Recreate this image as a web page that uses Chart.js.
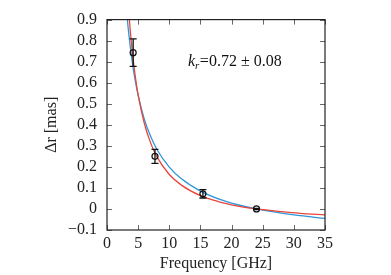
<!DOCTYPE html>
<html>
<head>
<meta charset="utf-8">
<script src="https://cdn.jsdelivr.net/npm/chart.js@4/dist/chart.umd.min.js"></script>
<style>
  html, body { margin: 0; padding: 0; background: #fff; }
  #wrap { width: 391px; height: 275px; }
</style>
</head>
<body>
<div id="wrap"><canvas id="myChart"></canvas></div>
<script>
// measured core shift points
const freqs = [4.2, 7.7, 15.4, 24.0];
const shifts = [0.743, 0.25, 0.072, 0.0];
const errs = [0.065, 0.033, 0.02, 0.003];

// red fit curve (k_r = 0.72)
const redFreq = [3.5, 3.6, 4, 4.5, 5, 6, 7, 8, 10, 12, 15, 18, 21, 24, 28, 31, 35];
const redVal = [0.935, 0.896, 0.765, 0.639, 0.542, 0.406, 0.314, 0.249, 0.164, 0.112, 0.063, 0.034, 0.014, 0, -0.013, -0.021, -0.028];

// blue fit curve (k_r = 1)
const blueFreq = [3.1, 3.2, 3.5, 4, 4.5, 5, 6, 7, 8, 10, 12, 15, 18, 21, 24, 28, 31, 35];
const blueVal = [0.96, 0.923, 0.832, 0.71, 0.616, 0.54, 0.426, 0.345, 0.284, 0.199, 0.142, 0.085, 0.047, 0.02, 0, -0.02, -0.032, -0.045];

const xTicks = [0, 5, 10, 15, 20, 25, 30, 35];
const yTicks = [-0.1, 0, 0.1, 0.2, 0.3, 0.4, 0.5, 0.6, 0.7, 0.8, 0.9];

const annText = '=0.72 \u00b1 0.08';

const serif = '"Liberation Serif", "DejaVu Serif", serif';

function pts(xs, ys) {
  return xs.map((x, i) => ({ x: x, y: ys[i] }));
}

// inward ticks on all four sides + frame
const framePlugin = {
  id: 'frame',
  afterDraw(chart) {
    const ctx = chart.ctx;
    const a = chart.chartArea;
    const xs = chart.scales.x, ys = chart.scales.y;
    ctx.save();
    ctx.strokeStyle = '#666';
    ctx.lineWidth = 1;
    const tl = 5;
    xTicks.forEach(v => {
      const px = Math.round(xs.getPixelForValue(v)) + 0.5;
      ctx.beginPath();
      ctx.moveTo(px, a.bottom); ctx.lineTo(px, a.bottom - tl);
      ctx.moveTo(px, a.top); ctx.lineTo(px, a.top + tl);
      ctx.stroke();
    });
    yTicks.forEach(v => {
      const py = Math.round(ys.getPixelForValue(v)) + 0.5;
      ctx.beginPath();
      ctx.moveTo(a.left, py); ctx.lineTo(a.left + tl, py);
      ctx.moveTo(a.right, py); ctx.lineTo(a.right - tl, py);
      ctx.stroke();
    });
    ctx.strokeStyle = '#222';
    ctx.lineWidth = 1.2;
    ctx.strokeRect(a.left, a.top, a.right - a.left, a.bottom - a.top);

    // k_r annotation
    const x0 = xs.getPixelForValue(13);
    const y0 = ys.getPixelForValue(0.68);
    ctx.fillStyle = '#111';
    ctx.textBaseline = 'alphabetic';
    ctx.textAlign = 'left';
    ctx.font = 'italic 16px ' + serif;
    ctx.fillText('k', x0, y0);
    let w = ctx.measureText('k').width;
    ctx.font = 'italic 11px ' + serif;
    ctx.fillText('r', x0 + w, y0 + 3);
    w += ctx.measureText('r').width + 0.5;
    ctx.font = '16px ' + serif;
    ctx.fillText(annText, x0 + w, y0);
    ctx.restore();
  }
};

// error bars drawn through the scales
const errPlugin = {
  id: 'errbars',
  afterDatasetsDraw(chart) {
    const ctx = chart.ctx;
    const xs = chart.scales.x, ys = chart.scales.y;
    ctx.save();
    ctx.strokeStyle = '#111';
    ctx.lineWidth = 1.3;
    freqs.forEach((f, i) => {
      const px = xs.getPixelForValue(f);
      const hi = ys.getPixelForValue(shifts[i] + errs[i]);
      const lo = ys.getPixelForValue(shifts[i] - errs[i]);
      ctx.beginPath();
      ctx.moveTo(px, hi); ctx.lineTo(px, lo);
      ctx.moveTo(px - 3.5, hi); ctx.lineTo(px + 3.5, hi);
      ctx.moveTo(px - 3.5, lo); ctx.lineTo(px + 3.5, lo);
      ctx.stroke();
    });
    ctx.restore();
  }
};

const ctx = document.querySelector('#myChart').getContext('2d');

const config = {
  type: 'scatter',
  data: {
    datasets: [
      {
        label: 'data',
        data: pts(freqs, shifts),
        pointRadius: 3,
        pointBorderColor: '#111',
        pointBackgroundColor: 'rgba(0,0,0,0)',
        pointBorderWidth: 1.2,
        showLine: false,
        order: 0
      },
      {
        label: 'red',
        data: pts(redFreq, redVal),
        showLine: true,
        borderColor: 'rgb(232, 70, 60)',
        borderWidth: 1.3,
        pointRadius: 0,
        cubicInterpolationMode: 'monotone',
        order: 1
      },
      {
        label: 'blue',
        data: pts(blueFreq, blueVal),
        showLine: true,
        borderColor: 'rgb(45, 150, 215)',
        borderWidth: 1.3,
        pointRadius: 0,
        cubicInterpolationMode: 'monotone',
        order: 2
      }
    ]
  },
  options: {
    responsive: true,
    maintainAspectRatio: false,
    animation: false,
    clip: 0,
    layout: { padding: { top: 13, right: 66, left: 0, bottom: 0 } },
    plugins: { legend: { display: false }, tooltip: { enabled: false } },
    scales: {
      x: {
        type: 'linear',
        min: 0,
        max: 35,
        afterBuildTicks: s => { s.ticks = xTicks.map(v => ({ value: v })); },
        afterFit: s => { s.height = 45; },
        grid: { display: false, drawTicks: false },
        border: { display: false },
        ticks: {
          color: '#222',
          padding: 4,
          autoSkip: false,
          font: { family: serif, size: 16 },
          maxRotation: 0
        },
        title: {
          display: true,
          text: 'Frequency [GHz]',
          color: '#222',
          font: { family: serif, size: 16 },
          padding: { top: 0, bottom: 2 }
        }
      },
      y: {
        type: 'linear',
        min: -0.1,
        max: 0.9,
        afterBuildTicks: s => { s.ticks = yTicks.map(v => ({ value: v })); },
        afterFit: s => { s.width = 107; },
        grid: { display: false, drawTicks: false },
        border: { display: false },
        ticks: {
          color: '#222',
          padding: 10,
          autoSkip: false,
          font: { family: serif, size: 16 },
          callback: v => {
            const r = Math.round(v * 10) / 10;
            if (r === 0) return '0';
            return (r < 0 ? '\u2212' : '') + Math.abs(r).toFixed(1);
          }
        },
        title: {
          display: true,
          text: '\u0394r [mas]',
          color: '#222',
          font: { family: serif, size: 16 },
          padding: { top: 42, bottom: 0 }
        }
      }
    }
  },
  plugins: [errPlugin, framePlugin]
};

const myChart = new Chart(ctx, config);
</script>
</body>
</html>
